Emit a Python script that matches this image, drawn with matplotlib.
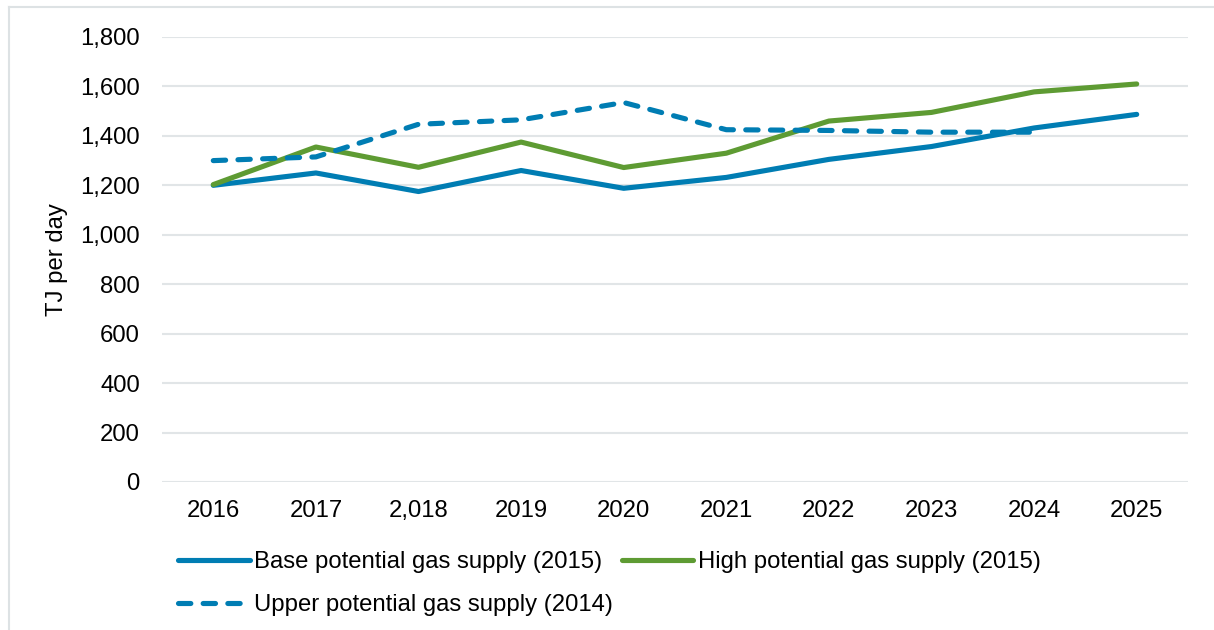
import matplotlib.pyplot as plt
from matplotlib.lines import Line2D
from matplotlib.ticker import FuncFormatter

years = ['2016', '2017', '2,018', '2019', '2020', '2021', '2022', '2023', '2024', '2025']
base_2015 = [1200, 1250, 1175, 1260, 1188, 1232, 1305, 1357, 1432, 1487]
high_2015 = [1203, 1355, 1273, 1375, 1272, 1330, 1460, 1495, 1578, 1610]
upper_2014 = [1300, 1315, 1447, 1465, 1535, 1425, 1422, 1415, 1415]

blue = '#007DB3'
green = '#5E9B33'
fs = 17.2

plt.rcParams['font.family'] = ['Liberation Sans', 'DejaVu Sans']

W, H = 1214, 630
fig = plt.figure(figsize=(W / 100, H / 100), dpi=100)
ax = fig.add_axes([162 / W, 1 - 482 / H, (1188 - 162) / W, (482 - 37) / H])

x = list(range(len(years)))
l_base, = ax.plot(x, base_2015, color=blue, lw=3.7, solid_capstyle='round', solid_joinstyle='round')
l_high, = ax.plot(x, high_2015, color=green, lw=3.7, solid_capstyle='round', solid_joinstyle='round')
l_upper, = ax.plot(x[:len(upper_2014)], upper_2014, color=blue, lw=3.7,
                   dashes=(2.4, 2.4), dash_capstyle='round')

ax.set_xlim(-0.5, len(years) - 0.5)
ax.set_ylim(0, 1800)
ax.set_yticks(range(0, 1801, 200))
ax.yaxis.set_major_formatter(FuncFormatter(lambda v, p: f'{int(v):,}'))
ax.set_xticks(x)
ax.set_xticklabels(years)
ax.tick_params(axis='both', length=0, labelsize=fs, colors='black')
ax.tick_params(axis='y', pad=16)
ax.tick_params(axis='x', pad=13)
ax.grid(axis='y', color='#E1E5E7', lw=1.5)
ax.set_axisbelow(True)
for s in ax.spines.values():
    s.set_visible(False)

fig.text(57 / W, 1 - 259.5 / H, 'TJ per day', rotation=90, fontsize=fs,
         ha='center', va='center')

fig.legend([l_base, l_upper, l_high],
           ['Base potential gas supply (2015)', 'Upper potential gas supply (2014)',
            'High potential gas supply (2015)'],
           ncol=2, loc='upper left', bbox_to_anchor=(178 / W, 1 - 551 / H),
           frameon=False, fontsize=fs, handlelength=3.0, handletextpad=0.2,
           columnspacing=0.35, labelspacing=0.88, borderpad=0, borderaxespad=0)

# light frame around the chart area
fig.add_artist(Line2D([9 / W, 9 / W], [0, 1 - 7 / H], color='#DDE2E4', lw=1.5))
fig.add_artist(Line2D([9 / W, 1], [1 - 7 / H, 1 - 7 / H], color='#DDE2E4', lw=1.5))

fig.savefig('out.png', dpi=100)
